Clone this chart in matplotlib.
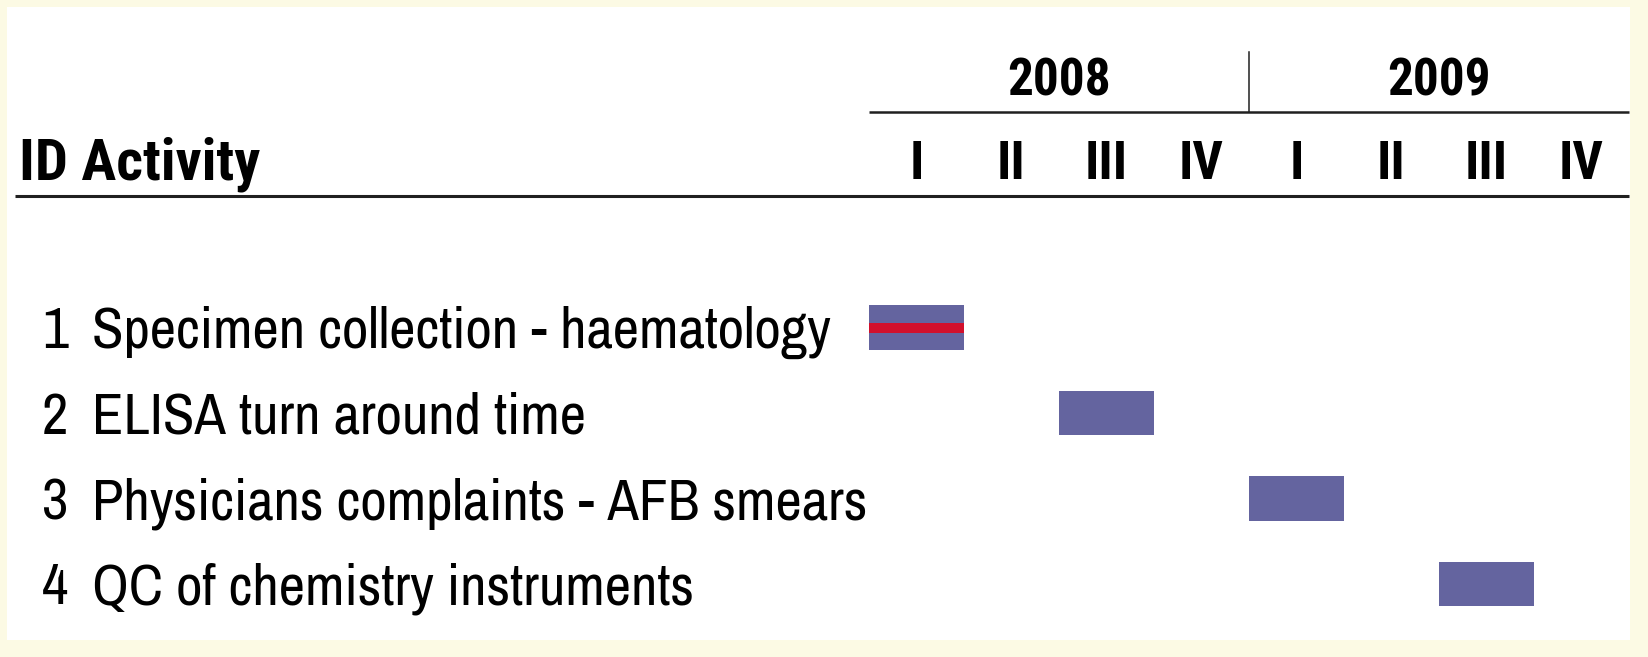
import matplotlib
matplotlib.use('Agg')
import matplotlib.pyplot as plt
from matplotlib.patches import Rectangle

# data
ids = [1, 2, 3, 4]
activities = ['Specimen collection - haematology',
              'ELISA turn around time',
              'Physicians complaints - AFB smears',
              'QC of chemistry instruments']
start_q = [0, 2, 4, 6]          # quarter index from 2008 Q1
duration_q = [1, 1, 1, 1]
highlight = [True, False, False, False]
years = ['2008', '2009']
quarters = ['I', 'II', 'III', 'IV']

W, H = 1649, 657
BAR_COLOR = '#64649f'
RED = '#d2102c'
NARROW = ['Archivo Narrow', 'Roboto Condensed', 'Liberation Sans']
NARROW_BOLD = ['Roboto Condensed', 'Open Sans Condensed', 'Liberation Sans']

fig = plt.figure(figsize=(W / 100, H / 100), dpi=100)
fig.patch.set_facecolor('#fcfae4')

ax = fig.add_axes([0, 0, 1, 1])
ax.set_facecolor('none')
# white inner panel, behind everything in the axes
ax.add_patch(Rectangle((7 / W, 17 / H), (1630 - 7) / W, (640 - 7) / H,
                       transform=fig.transFigure, facecolor='white',
                       edgecolor='none', zorder=-10))
# x in quarters (quarter 0 starts at px 869, 95 px per quarter)
# y in rows (row 0 centred at px 327.5, 85.5 px per row)
x0, qw = 869, 95
y0, rh = 327.5, 85.5
ax.set_xlim(-x0 / qw, (W - x0) / qw)
ax.set_ylim((H - y0) / rh, -y0 / rh)
ax.axis('off')

def py(p):
    return (p - y0) / rh

def px(p):
    return (p - x0) / qw

n_q = len(years) * len(quarters)

# header
ax.text(px(19), py(179), 'ID Activity', fontsize=42, fontweight='bold',
        family=NARROW_BOLD, ha='left', va='baseline')
for i, y in enumerate(years):
    mid = i * len(quarters) + len(quarters) / 2
    ax.text(mid, py(95), y, fontsize=37, fontweight='bold', family=NARROW_BOLD,
            ha='center', va='baseline')
for k in range(n_q):
    ax.text(k + 0.5, py(179), quarters[k % len(quarters)], fontsize=38,
            fontweight='bold', family=NARROW_BOLD, ha='center', va='baseline')
ax.plot([0, n_q], [py(111.5)] * 2, color='#202020', lw=1.8, solid_capstyle='butt')
for i in range(1, len(years)):
    xv = i * len(quarters)
    ax.plot([xv, xv], [py(52), py(111.5)], color='#202020', lw=1.1)
ax.plot([px(15), n_q], [py(195.6)] * 2, color='#202020', lw=2.2, solid_capstyle='butt')

# rows
for r, (i, name, s, d, hl) in enumerate(zip(ids, activities, start_q, duration_q, highlight)):
    base = r + py(348) - py(327.5)
    ax.text(px(42), base, str(i), fontsize=41.5, family=NARROW, ha='left', va='baseline')
    ax.text(px(92), base, name, fontsize=41.5, family=NARROW, ha='left', va='baseline')
    ax.barh(r, d, left=s, height=0.526, color=BAR_COLOR, edgecolor='none')
    if hl:
        ax.plot([s, s + d], [r, r], color=RED, lw=7.2, solid_capstyle='butt')

fig.savefig('out.png', dpi=100, facecolor=fig.get_facecolor())
